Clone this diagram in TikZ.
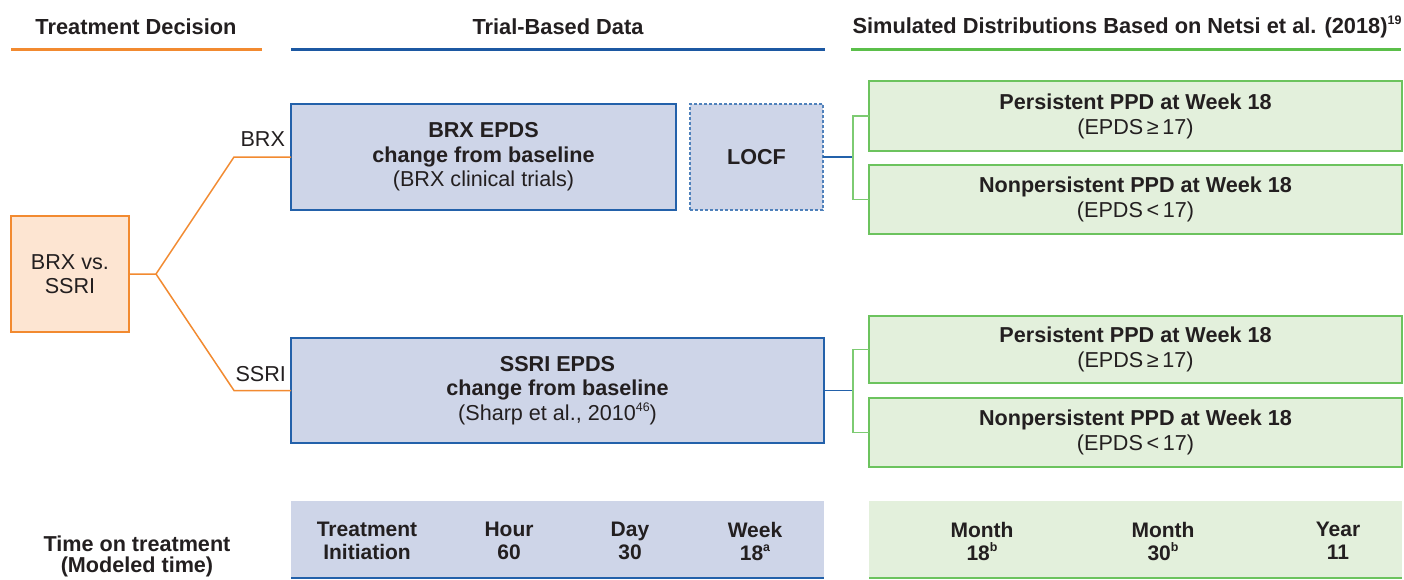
\documentclass[tikz,border=0pt]{standalone}
\usepackage{fontspec}
\setmainfont{Liberation Sans}
\definecolor{txt}{HTML}{231F20}
\definecolor{orln}{HTML}{F28A30}
\definecolor{orfill}{HTML}{FDE5D2}
\definecolor{blln}{HTML}{2361AA}
\definecolor{blhdr}{HTML}{1C58A2}
\definecolor{blfill}{HTML}{CED5E8}
\definecolor{grln}{HTML}{6CC35E}
\definecolor{grhdr}{HTML}{5BBF4A}
\definecolor{grfill}{HTML}{E3F0DC}
\definecolor{grbr}{HTML}{7DCB72}
\newcommand{\supsm}[1]{\raisebox{0.75ex}{\fontsize{6.2}{6.2}\selectfont #1}}
\begin{document}
\begin{tikzpicture}[x=0.5pt,y=-0.5pt,
  every node/.style={text=txt, inner sep=0pt, outer sep=0pt, align=center,
    font=\fontsize{10.8}{11.8}\selectfont},
  hdr/.style={font=\fontsize{10.9}{12}\selectfont\bfseries},
  lbl/.style={font=\fontsize{10.8}{12}\selectfont},
  decbox/.style={draw=orln, fill=orfill, line width=0.75pt, minimum width=59pt, minimum height=58pt,
    font=\fontsize{10.8}{12}\selectfont},
  trialbox/.style={draw=blln, fill=blfill, line width=0.75pt, minimum height=53pt},
  locfbox/.style={draw=blln!80, fill=blfill, line width=0.75pt, dashed, dash pattern=on 1.5pt off 1pt,
    minimum width=66.5pt, minimum height=53pt},
  simbox/.style={draw=grln, fill=grfill, line width=0.75pt, minimum width=266.5pt,
    font=\fontsize{10.8}{12.5}\selectfont},
  band/.style={minimum height=38.5pt},
  tlab/.style={font=\fontsize{10.5}{11.5}\selectfont\bfseries},
  oline/.style={draw=orln, line width=0.75pt},
  bline/.style={draw=blln, line width=0.75pt},
  gline/.style={draw=grbr, line width=0.9pt}
]
\clip (0,0) rectangle (1404,579);
\fill[white] (0,0) rectangle (1404,579);

% headers
\node[hdr] (h1) at (136,27) {Treatment Decision};
\node[hdr] (h2) at (558,27) {Trial-Based Data};
\node[hdr] (h3) at (1127,27) {Simulated Distributions Based on Netsi et al. (2018)\supsm{19}};
\draw[orln, line width=1.5pt] (11,49) -- (262,49);
\draw[blhdr, line width=1.5pt] (291,49) -- (825,49);
\draw[grhdr, line width=1.5pt] (851,49) -- (1401,49);

% decision
\node[decbox] (dec) at (70,274) {BRX vs.\\SSRI};

% trial boxes
\node[trialbox, minimum width=192.5pt] (brx) at (483.5,157)
  {\textbf{BRX EPDS}\\[0.4pt]\textbf{change from baseline}\\[0.4pt](BRX clinical trials)};
\node[locfbox] (locf) at (756.5,157) {\textbf{LOCF}};
\node[trialbox, minimum width=266.5pt, minimum height=52.5pt] (ssri) at (557.5,390.5)
  {\textbf{SSRI EPDS}\\[0.4pt]\textbf{change from baseline}\\[0.4pt](Sharp et al., 2010\supsm{46})};

% simulated boxes
\node[simbox, minimum height=35pt] (g1) at (1135.5,116)
  {\textbf{Persistent PPD at Week 18}\\(EPDS\,≥\,17)};
\node[simbox, minimum height=34.5pt] (g2) at (1135.5,199.5)
  {\textbf{Nonpersistent PPD at Week 18}\\(EPDS\,<\,17)};
\node[simbox, minimum height=33.5pt] (g3) at (1135.5,349.5)
  {\textbf{Persistent PPD at Week 18}\\(EPDS\,≥\,17)};
\node[simbox, minimum height=34.5pt] (g4) at (1135.5,432.5)
  {\textbf{Nonpersistent PPD at Week 18}\\(EPDS\,<\,17)};

% branch labels
\node[lbl, anchor=east] (lbrx) at (285,139) {BRX};
\node[lbl, anchor=east] (lssri) at (286,374) {SSRI};

% orange connectors
\coordinate (fork) at (156,274);
\coordinate (bup) at (234,157);
\coordinate (bdn) at (234,390.5);
\draw[oline] (dec.east) -- (fork) -- (bup) -- (brx.west);
\draw[oline] (fork) -- (bdn) -- (ssri.west);

% blue + green connectors
\coordinate (j1) at (853,157);
\coordinate (j2) at (853,390.5);
\draw[bline] (locf.east) -- (j1);
\draw[gline] (g1.west) -- (853,116) -- (853,199.5) -- (g2.west);
\draw[bline] (ssri.east) -- (j2);
\draw[gline] (g3.west) -- (853,349.5) -- (853,432.5) -- (g4.west);

% bottom bands
\node[band, fill=blfill, minimum width=266.5pt] (tb) at (557.5,539.5) {};
\draw[blln, line width=0.9pt] (tb.south west) -- (tb.south east);
\node[band, fill=grfill, minimum width=266.5pt] (gb) at (1135.5,539.5) {};
\draw[grln, line width=0.9pt] (gb.south west) -- (gb.south east);

\node[tlab] (t1) at (367,541) {Treatment\\Initiation};
\node[tlab] (t2) at (509,541) {Hour\\60};
\node[tlab] (t3) at (630,541) {Day\\30};
\node[tlab] (t4) at (755,541) {Week\\18\supsm{a}};
\node[tlab] (t5) at (982,541) {Month\\18\supsm{b}};
\node[tlab] (t6) at (1163,541) {Month\\30\supsm{b}};
\node[tlab] (t7) at (1338,541) {Year\\11};

\node[tlab, font=\fontsize{10.8}{10.5}\selectfont\bfseries, anchor=south] (tt) at (137,577)
  {Time on treatment\\(Modeled time)};
\end{tikzpicture}
\end{document}
